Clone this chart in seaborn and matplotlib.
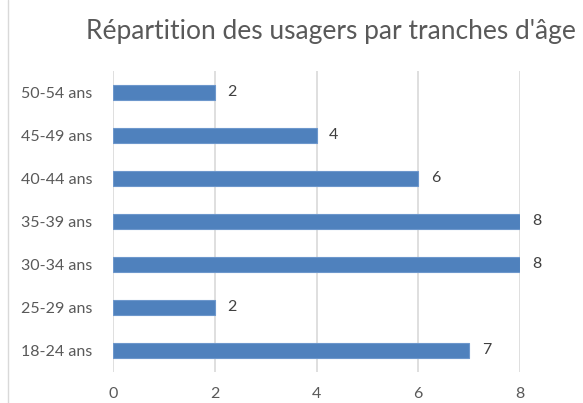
import matplotlib
matplotlib.use("Agg")
import matplotlib.pyplot as plt
from matplotlib.lines import Line2D
import seaborn as sns
import pandas as pd

categories = ["50-54 ans", "45-49 ans", "40-44 ans", "35-39 ans", "30-34 ans", "25-29 ans", "18-24 ans"]
values = [2, 4, 6, 8, 8, 2, 7]
x_ticks = [0, 2, 4, 6, 8]
title = "Répartition des usagers par tranches d'âge"

sns.set_theme(style="white")
plt.rcParams["font.family"] = ["Lato", "DejaVu Sans"]

df = pd.DataFrame({"tranche": categories, "usagers": values})

fig = plt.figure(figsize=(5.83, 4.03), dpi=100)
ax = fig.add_axes([0.194, 0.078, 0.698, 0.747])

sns.barplot(data=df, x="usagers", y="tranche", order=categories, orient="h",
            color="#4f81bd", saturation=1, width=0.35, edgecolor="#6d97cc",
            linewidth=0.8, ax=ax, zorder=3)

ax.set_xlim(0, 8)
ax.set_ylim(6.5, -0.5)
ax.set_xticks(x_ticks)
ax.set_xticklabels([str(t) for t in x_ticks])
ax.xaxis.grid(True, color="#d9d9d9", linewidth=1.2, zorder=0)
ax.set_axisbelow(True)
ax.set_xlabel("")
ax.set_ylabel("")
for s in ax.spines.values():
    s.set_visible(False)
ax.tick_params(axis="both", length=0, labelsize=11.5, colors="#595959")
ax.tick_params(axis="x", pad=11)
ax.tick_params(axis="y", pad=15)

for i, v in enumerate(values):
    ax.annotate(str(v), xy=(v, i), xytext=(9, 0), textcoords="offset points",
                va="center", ha="left", fontsize=11.5, color="#404040")

fig.text(0.568, 0.922, title, ha="center", va="center", fontsize=19, color="#595959")
fig.add_artist(Line2D([8 / 583, 8 / 583], [0, 1], transform=fig.transFigure,
                      color="#d9d9d9", linewidth=1))

fig.savefig("out.png", dpi=100)
